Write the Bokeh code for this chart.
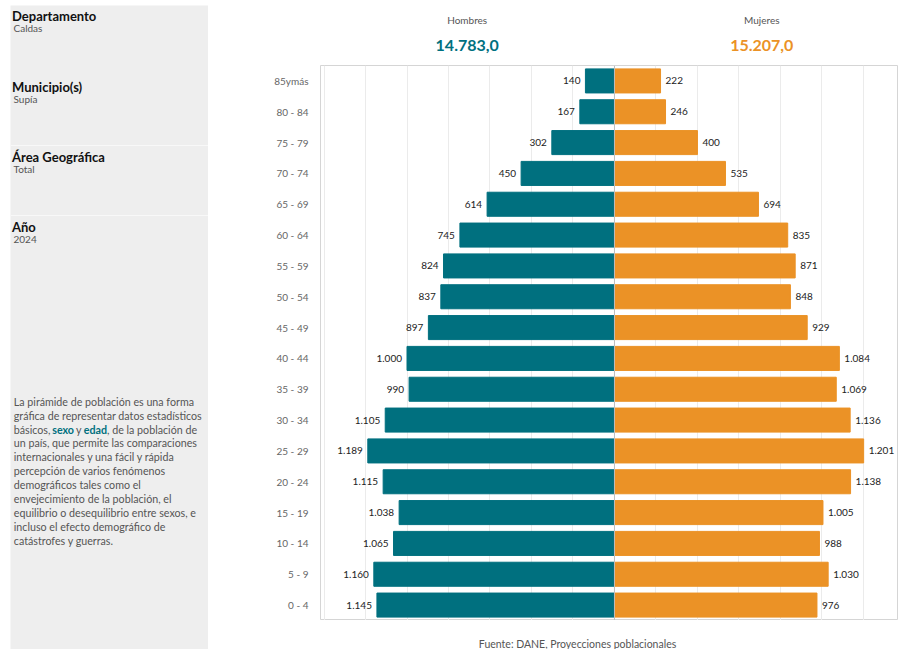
from bokeh.plotting import figure
from bokeh.models import FactorRange, Range1d, Span, FixedTicker, ColumnDataSource, Spacer
from bokeh.layouts import row, column
from bokeh.core.properties import value
from bokeh.embed import file_html
from bokeh.resources import INLINE

# ---- data ----
ages = ["85ymás", "80 - 84", "75 - 79", "70 - 74", "65 - 69", "60 - 64", "55 - 59",
        "50 - 54", "45 - 49", "40 - 44", "35 - 39", "30 - 34", "25 - 29", "20 - 24",
        "15 - 19", "10 - 14", "5 - 9", "0 - 4"]
hombres = [140, 167, 302, 450, 614, 745, 824, 837, 897, 1000, 990, 1105, 1189, 1115,
           1038, 1065, 1160, 1145]
mujeres = [222, 246, 400, 535, 694, 835, 871, 848, 929, 1084, 1069, 1136, 1201, 1138,
           1005, 988, 1030, 976]
sexes = ["Hombres", "Mujeres"]
totals = ["14.783,0", "15.207,0"]

info_titles = ["Departamento", "Municipio(s)", "Área Geográfica", "Año"]
info_values = ["Caldas", "Supía", "Total", "2024"]
paragraph = [
    "La pirámide de población es una forma",
    "gráfica de representar datos estadísticos",
    None,
    "un país, que permite las comparaciones",
    "internacionales y una fácil y rápida",
    "percepción de varios fenómenos",
    "demográficos tales como el",
    "envejecimiento de la población, el",
    "equilibrio o desequilibrio entre sexos, e",
    "incluso el efecto demográfico de",
    "catástrofes y guerras.",
]
line3_parts = ["básicos,", "sexo", "y", "edad", ", de la población de"]
footnote = "Fuente: DANE, Proyecciones poblacionales"

FONT = "Lato"
TEAL = "#00707F"
ORANGE = "#EB9226"
PANEL = "#EEEEEE"
TOTAL_H = 644
HDR_H = 60
FRAME_H = 555
FTR_H = TOTAL_H - HDR_H - FRAME_H
PW = 690
BL = 112


def fmt(n):
    return f"{n:,}".replace(",", ".")


def bare(fig):
    fig.axis.visible = False
    fig.grid.visible = False
    fig.outline_line_color = None


# ---- left information panel ----
lp = figure(width=198, height=TOTAL_H, x_range=Range1d(0, 198), y_range=Range1d(TOTAL_H, 0),
            output_backend="svg", toolbar_location=None, min_border=0)
bare(lp)
lp.background_fill_color = PANEL
lp.border_fill_color = PANEL

title_y = [10, 81, 151, 221]
for t, v, ty in zip(info_titles, info_values, title_y):
    lp.text(x=[1.5], y=[ty], text=[t], text_font=value(FONT), text_font_style="bold",
            text_font_size="13px", text_color="#111111", text_baseline="middle")
    lp.text(x=[3], y=[ty + 12.5], text=[v], text_font=value(FONT),
            text_font_size="10px", text_color="#555555", text_baseline="middle")
for sy in [140, 210]:
    lp.segment(x0=[0], x1=[198], y0=[sy], y1=[sy], line_color="#F8F8F8", line_width=1)

py0 = 395.7
dy = 13.9
PFS = "10.7px"
for i, line in enumerate(paragraph):
    if line is None:
        continue
    lp.text(x=[3.3], y=[py0 + dy * i], text=[line], text_font=value(FONT),
            text_font_size=PFS, text_color="#555555", text_baseline="middle")
xs3 = [3.3, 41.7, 65.5, 73.2, 96.5]
styles3 = ["normal", "bold", "normal", "bold", "normal"]
colors3 = ["#555555", TEAL, "#555555", TEAL, "#555555"]
for xx, tt, st, cc in zip(xs3, line3_parts, styles3, colors3):
    lp.text(x=[xx], y=[py0 + dy * 2], text=[tt], text_font=value(FONT),
            text_font_style=st, text_font_size=PFS, text_color=cc,
            text_baseline="middle")

# ---- pyramid ----
xr = Range1d(-1417, 1369)

src = ColumnDataSource(dict(
    age=ages,
    h_neg=[-v for v in hombres],
    m=mujeres,
    h_lbl=[fmt(v) for v in hombres],
    m_lbl=[fmt(v) for v in mujeres],
))

hdr = figure(width=PW, height=HDR_H, x_range=xr, y_range=Range1d(HDR_H, 0),
             output_backend="svg", toolbar_location=None, min_border_left=BL,
             min_border_right=0, min_border_top=0, min_border_bottom=0)
bare(hdr)
hdr.text(x=[-710, 710], y=[14, 14], text=sexes, text_align="center",
         text_baseline="middle", text_font=value(FONT), text_font_size="10px",
         text_color="#555555")
hdr.text(x=[-710, 710], y=[40, 40], text=totals, text_align="center",
         text_baseline="middle", text_font=value(FONT), text_font_size="16px",
         text_font_style="bold", text_color=[TEAL, ORANGE])

p = figure(width=PW, height=FRAME_H, y_range=FactorRange(*ages[::-1]), x_range=xr,
           output_backend="svg", toolbar_location=None,
           min_border_left=BL, min_border_right=0, min_border_top=0,
           min_border_bottom=0)
p.xaxis.visible = False
p.ygrid.visible = False
p.xgrid.ticker = FixedTicker(ticks=list(range(-1400, 1401, 200)))
p.xgrid.grid_line_color = "#EBEBEB"
p.outline_line_color = "#D5D5D5"

p.yaxis.axis_line_color = None
p.yaxis.major_tick_line_color = None
p.yaxis.minor_tick_line_color = None
p.yaxis.major_label_standoff = 6
p.yaxis.major_label_text_font = FONT
p.yaxis.major_label_text_font_size = "10px"
p.yaxis.major_label_text_color = "#666666"

p.hbar(y="age", left="h_neg", right=0, height=0.78, fill_color=TEAL,
       line_color=TEAL, source=src)
p.hbar(y="age", left=0, right="m", height=0.78, fill_color=ORANGE,
       line_color=ORANGE, source=src)
p.add_layout(Span(location=0, dimension="height", line_color="#BDBDBD", line_width=1))

p.text(x="h_neg", y="age", text="h_lbl", x_offset=-5, text_align="right",
       text_baseline="middle", text_font=value(FONT), text_font_size="10px",
       text_color="#222222", source=src)
p.text(x="m", y="age", text="m_lbl", x_offset=5, text_align="left",
       text_baseline="middle", text_font=value(FONT), text_font_size="10px",
       text_color="#222222", source=src)

ftr = figure(width=PW, height=FTR_H, x_range=xr, y_range=Range1d(FTR_H, 0),
             output_backend="svg", toolbar_location=None, min_border_left=BL,
             min_border_right=0, min_border_top=0, min_border_bottom=0)
bare(ftr)
ftr.text(x=[-178], y=[FTR_H - 6], text=[footnote], text_align="center",
         text_baseline="middle", text_font=value(FONT), text_font_size="10.5px",
         text_color="#555555")

layout = column(Spacer(height=5),
                row(Spacer(width=10, height=TOTAL_H), lp, column(hdr, p, ftr)))
open("out.html", "w").write(file_html(layout, INLINE))
